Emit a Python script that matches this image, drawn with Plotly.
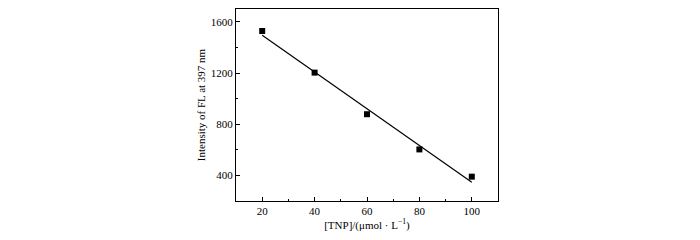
import plotly.graph_objects as go

tnp = [20, 40, 60, 80, 100]
intensity = [1528, 1203, 878, 603, 390]
fit_x = [20, 100]
fit_y = [1495, 346]
x_ticks = [20, 40, 60, 80, 100]
y_ticks = [400, 800, 1200, 1600]

fig = go.Figure()
fig.add_trace(go.Scatter(x=fit_x, y=fit_y, mode="lines",
                         line=dict(color="black", width=1.2), showlegend=False))
fig.add_trace(go.Scatter(x=tnp, y=intensity, mode="markers",
                         marker=dict(symbol="square", size=6, color="black"),
                         showlegend=False))

font = dict(family="Liberation Serif", color="black", size=11)
fig.update_layout(
    width=692, height=232,
    margin=dict(l=228, r=202, t=1, b=39),
    paper_bgcolor="white", plot_bgcolor="white",
    font=font,
    xaxis=dict(range=[10, 110], tickvals=x_ticks, ticks="inside", ticklen=4,
               tickcolor="black", showline=True, linecolor="black", linewidth=1,
               mirror=True, showgrid=False, zeroline=False, automargin=False,
               minor=dict(tickvals=[30, 50, 70, 90], ticks="inside", ticklen=2, tickcolor="black"),
               title=dict(text="[TNP]/(μmol · L<sup>−1</sup>)", standoff=2, font=font),
               tickfont=font),
    yaxis=dict(range=[200, 1700], tickvals=y_ticks, ticks="inside", ticklen=4,
               tickcolor="black", showline=True, linecolor="black", linewidth=1,
               mirror=True, showgrid=False, zeroline=False, automargin=False,
               minor=dict(tickvals=[200, 600, 1000, 1400], ticks="inside", ticklen=2, tickcolor="black"),
               title=dict(text="Intensity of FL at 397 nm", standoff=2, font=font),
               tickfont=font),
)
fig.write_html("out.html")
